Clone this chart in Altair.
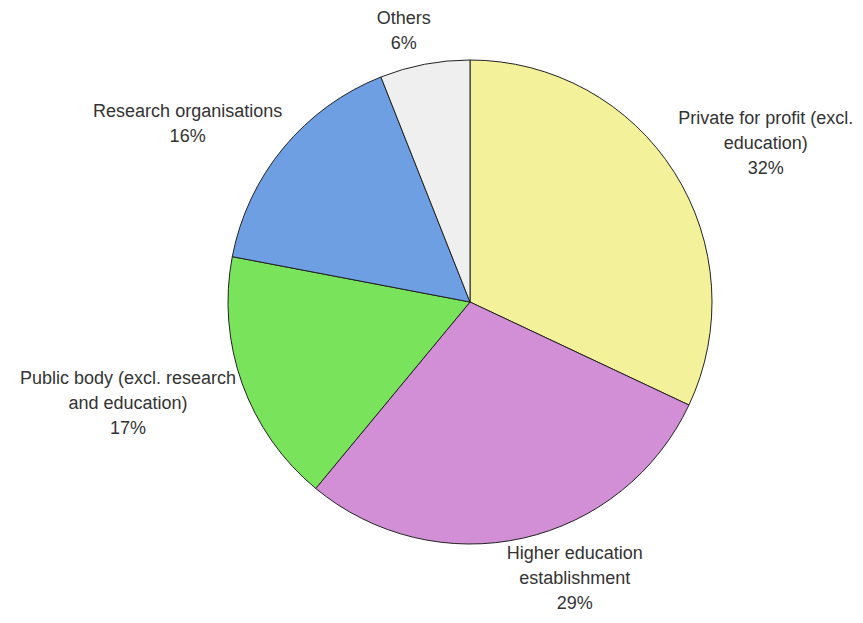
import altair as alt
import pandas as pd

# ---- data ----
categories = [
    "Private for profit (excl.\neducation)",
    "Higher education\nestablishment",
    "Public body (excl. research\nand education)",
    "Research organisations",
    "Others",
]
shares = [32, 29, 17, 16, 6]
colors = ["#f3f29a", "#d28fd6", "#79e35c", "#6e9fe3", "#efefef"]

FS, LH = 18, 25

# approximate Arial / Liberation Sans advance widths (per 1000 em), used to estimate label block sizes
_W = {" ": 278, "(": 333, ")": 333, ".": 278, "%": 889, "f": 278, "i": 222, "j": 222, "l": 222,
      "r": 333, "t": 278, "c": 500, "k": 500, "s": 500, "v": 500, "x": 500, "y": 500, "z": 500,
      "m": 833, "w": 722, "H": 722, "O": 778, "P": 667, "R": 722}


def text_width(s):
    return sum(_W.get(ch, 556) for ch in s) * FS / 1000.0


labels = [f"{c}\n{s}%" for c, s in zip(categories, shares)]
df = pd.DataFrame({
    "category": categories,
    "share": shares,
    "order": list(range(len(categories))),
    "label": labels,
    "nlines": [len(l.split("\n")) for l in labels],
    "bw": [max(text_width(p) for p in l.split("\n")) for l in labels],
})

W, H = 847, 607
CX, CY, R = 462, 294, 242
RA = R + 8

base = alt.Chart(df)

pie = base.mark_arc(stroke="#222222", strokeWidth=1).encode(
    theta=alt.Theta("share:Q", stack=True),
    order=alt.Order("order:Q"),
    color=alt.Color("category:N", scale=alt.Scale(domain=categories, range=colors), legend=None),
    x=alt.value(CX),
    y=alt.value(CY),
    radius=alt.value(R),
)

text = base.transform_window(
    cum="sum(share)", sort=[alt.SortField("order")], frame=[None, 0]
).transform_joinaggregate(
    total="sum(share)"
).transform_calculate(
    a="2*PI*(datum.cum - datum.share/2)/datum.total"
).transform_calculate(
    s="sin(datum.a)", c="cos(datum.a)", h=f"datum.nlines*{LH}"
).transform_calculate(
    lx=f"{CX} + {RA}*datum.s + datum.bw/2*(datum.s<0?-1:1)*pow(abs(datum.s), 0.2)",
    ly0=(f"{CY} - {RA}*datum.c - datum.h/2*(datum.c<0?-1:1)*pow(abs(datum.c), 0.7)"
         f" - (datum.nlines-1)*{LH}/2"),
).transform_calculate(
    # keep the label block inside the drawing area
    ly=f"min(datum.ly0, {H - 11} - (datum.nlines-1)*{LH})",
).mark_text(
    font="Liberation Sans", fontSize=FS, color="#333333", lineBreak="\n",
    lineHeight=LH, align="center", baseline="middle"
).encode(
    x=alt.X("lx:Q", scale=None, axis=None),
    y=alt.Y("ly:Q", scale=None, axis=None),
    text="label:N",
)

chart = alt.layer(pie, text).properties(
    width=W, height=H, padding=0, background="white",
    autosize=alt.AutoSizeParams(type="none"),
).configure_view(stroke=None)

chart.save("out.html", embed_options={"renderer": "svg", "actions": False})
